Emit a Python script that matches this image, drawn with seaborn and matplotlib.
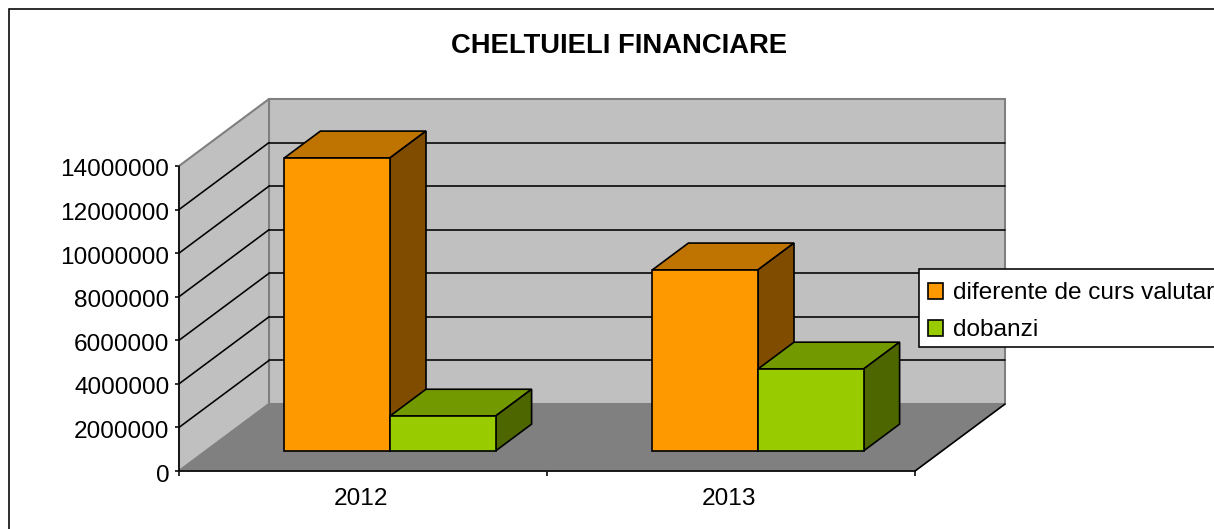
import pandas as pd
import seaborn as sns
import matplotlib.pyplot as plt
from matplotlib.lines import Line2D
from matplotlib.patches import Polygon, Rectangle
from matplotlib.transforms import Affine2D, IdentityTransform

# valori
years = ['2012', '2013']
diferente_curs = [13450000, 8310000]
dobanzi = [1600000, 3760000]
series_names = ['diferente de curs valutar', 'dobanzi']
y_ticks = [0, 2000000, 4000000, 6000000, 8000000, 10000000, 12000000, 14000000]

W, H = 1214, 529
DEPTH_X, DEPTH_Y = 90, 67   # deplasarea peretelui din spate, in pixeli
BAR_D0, BAR_D1 = 0.30, 0.70 # unde stau coloanele in adancime
LABEL_SIZE = 17.6

df = pd.DataFrame({
    'an': years * 2,
    'valoare': diferente_curs + dobanzi,
    'serie': [series_names[0]] * 2 + [series_names[1]] * 2,
})

sns.set_theme(style='white')
plt.rcParams['font.family'] = ['Liberation Sans', 'DejaVu Sans']

fig = plt.figure(figsize=(W / 100, H / 100), dpi=100)
ax = fig.add_axes([179 / W, (H - 471) / H, 736 / W, 305 / H])
ax.patch.set_visible(False)

sns.barplot(data=df, x='an', y='valoare', hue='serie', ax=ax, width=0.574,
            palette=['#FF9900', '#99CC00'], edgecolor='black', linewidth=1.2,
            saturation=1)
ax.set_xlim(-0.5, 1.5)
ax.set_ylim(0, 14000000)
ax.set_xlabel('')
ax.set_ylabel('')


def project(x, v, d):
    px, py = ax.transData.transform((x, v))
    return px + DEPTH_X * d, py + DEPTH_Y * d


def face(pts, fc, ec='none', lw=1.2, z=1):
    poly = Polygon([project(*p) for p in pts], closed=True, facecolor=fc, edgecolor=ec,
                   linewidth=lw, transform=IdentityTransform(), clip_on=False, zorder=z)
    ax.add_patch(poly)


def line(p0, p1, color='black', lw=1.15, z=1.5):
    a, b = project(*p0), project(*p1)
    ax.add_line(Line2D([a[0], b[0]], [a[1], b[1]], color=color, linewidth=lw,
                       transform=IdentityTransform(), clip_on=False, zorder=z))


x0, x1 = -0.5, 1.5
top = y_ticks[-1]

# pereti si podea
face([(x0, 0, 1), (x1, 0, 1), (x1, top, 1), (x0, top, 1)], '#C0C0C0', ec='#808080', lw=1.5)
face([(x0, 0, 0), (x0, 0, 1), (x0, top, 1), (x0, top, 0)], '#C0C0C0', ec='#808080', lw=1.5)
face([(x0, 0, 0), (x1, 0, 0), (x1, 0, 1), (x0, 0, 1)], '#808080', ec='#808080', lw=1.2, z=1.2)
line((x0, 0, 0), (x1, 0, 0), z=1.6)
line((x1, 0, 0), (x1, 0, 1), z=1.6)
line((x0, 0, 0), (x0, top, 0), z=1.6)

for v in y_ticks[1:-1]:
    line((x0, v, 0), (x0, v, 1))
    line((x0, v, 1), (x1, v, 1))

# coloanele: fata vine din seaborn, laturile se calculeaza din ea
offset = ax.transData + Affine2D().translate(DEPTH_X * BAR_D0, DEPTH_Y * BAR_D0)
shades = [('#BF7300', '#804C00'), ('#739900', '#4D6600')]
for i, bars in enumerate(ax.containers[:2]):
    z = 3 + i * 0.5
    top_c, side_c = shades[i]
    for bar in bars:
        a = bar.get_x()
        b = a + bar.get_width()
        h = bar.get_height()
        face([(a, h, BAR_D0), (b, h, BAR_D0), (b, h, BAR_D1), (a, h, BAR_D1)],
             top_c, ec='black', z=z)
        face([(b, 0, BAR_D0), (b, h, BAR_D0), (b, h, BAR_D1), (b, 0, BAR_D1)],
             side_c, ec='black', z=z)
        bar.set_transform(offset)
        bar.set_clip_on(False)
        bar.set_zorder(z + 0.1)

# axe
sns.despine(ax=ax, top=True, right=True, left=True, bottom=True)
ax.set_yticks(y_ticks)
ax.set_yticklabels([str(v) for v in y_ticks])
ax.set_xticks([0, 1])
ax.set_xticks([-0.5, 0.5, 1.5], minor=True)
ax.tick_params(axis='y', length=3, width=1.15, color='black', pad=4, labelsize=LABEL_SIZE,
               labelcolor='black', left=True)
ax.tick_params(axis='x', which='major', length=0, pad=12, labelsize=LABEL_SIZE, labelcolor='black')
ax.tick_params(axis='x', which='minor', length=3.5, width=1.15, color='black', bottom=True)
for lbl in ax.get_yticklabels():
    lbl.set_transform(lbl.get_transform() + Affine2D().translate(0, -2))
for lbl in ax.get_xticklabels():
    lbl.set_transform(lbl.get_transform() + Affine2D().translate(-2, 0))

# legenda: caseta separata, iese din imagine la dreapta
ax.add_patch(Rectangle((919 / W, (H - 347) / H), 0.3, 78 / H, transform=fig.transFigure,
                       facecolor='white', edgecolor='black', linewidth=1.15,
                       clip_on=False, zorder=4.9))
handles, labels = ax.get_legend_handles_labels()
leg = ax.legend(handles, labels, loc='upper left', bbox_to_anchor=(918 / W, (H - 272.5) / H),
                bbox_transform=fig.transFigure, borderaxespad=0, fontsize=LABEL_SIZE,
                frameon=False, handlelength=0.63, handleheight=0.63, handletextpad=0.42,
                labelspacing=0.62, borderpad=0.4)
for txt in leg.get_texts():
    txt.set_color('black')

fig.text(619.5 / W, (H - 46) / H, 'CHELTUIELI FINANCIARE', ha='center', va='center',
         fontsize=19.7, fontweight='bold', color='black')

# chenarul graficului, taiat de marginea imaginii
fig.add_artist(Rectangle((9 / W, -0.05), 1.1, (H - 9) / H + 0.05, transform=fig.transFigure,
                         facecolor='none', edgecolor='black', linewidth=1.15))

fig.savefig('out.png', dpi=100, facecolor='white')
